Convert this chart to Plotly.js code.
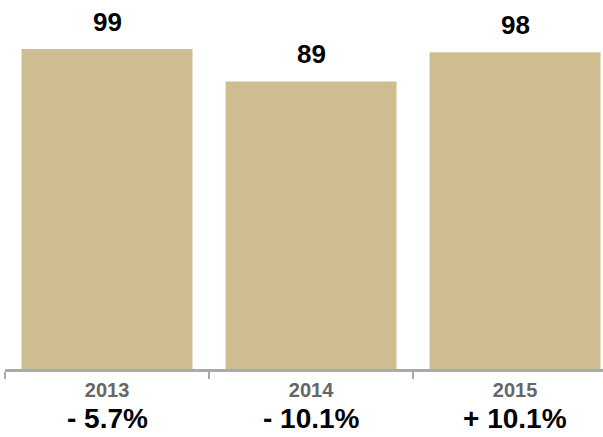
<!DOCTYPE html>
<html>
<head>
<meta charset="utf-8">
<script src="https://cdn.plot.ly/plotly-3.0.1.min.js"></script>
<style>html,body{margin:0;padding:0;background:#fff;}#chart{width:603px;height:437px;}</style>
</head>
<body>
<div id="chart"></div>
<script>
const years = ["2013", "2014", "2015"];
const values = [99, 89, 98];
const changes = ["- 5.7%", "- 10.1%", "+ 10.1%"];

const FONT = "Liberation Sans, Arial, Helvetica, sans-serif";

const trace = {
  type: "bar",
  x: years,
  y: values,
  marker: {color: "#cfbd92"},
  hoverinfo: "none"
};

const annotations = [];
years.forEach((yr, i) => {
  annotations.push({
    x: i, y: values[i], xref: "x", yref: "y",
    text: "<b>" + values[i] + "</b>",
    showarrow: false, xanchor: "center", yanchor: "bottom", yshift: 10,
    font: {family: FONT, size: 26, color: "#000000"}
  });
  annotations.push({
    x: i, y: -0.135, xref: "x", yref: "paper",
    text: "<b>" + changes[i] + "</b>",
    showarrow: false, xanchor: "center", yanchor: "middle",
    font: {family: FONT, size: 28, color: "#000000"}
  });
});

const layout = {
  width: 603, height: 437,
  margin: {l: 5, r: 0, t: 0, b: 68},
  paper_bgcolor: "#fff", plot_bgcolor: "#fff",
  bargap: 0.162,
  showlegend: false,
  xaxis: {
    type: "category",
    range: [-0.5, 2.431],
    showline: true, linecolor: "#aaaaaa", linewidth: 3,
    ticks: "outside", tickson: "boundaries", ticklen: 7, tickwidth: 2, tickcolor: "#aaaaaa",
    tickfont: {family: FONT, size: 20, color: "#666"},
    ticklabelstandoff: 1,
    showgrid: false, zeroline: false,
    tickprefix: "<b>", ticksuffix: "</b>"
  },
  yaxis: {
    range: [0, 114.2],
    visible: false, showgrid: false, zeroline: false
  },
  annotations: annotations
};

Plotly.newPlot("chart", [trace], layout, {displayModeBar: false});
</script>
</body>
</html>
